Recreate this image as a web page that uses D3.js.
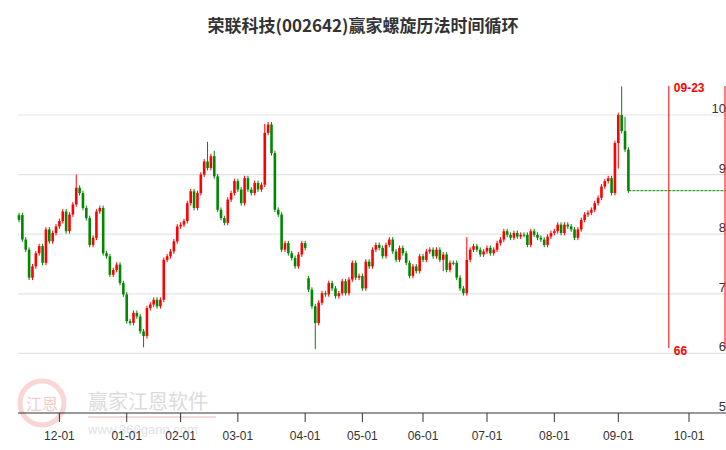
<!DOCTYPE html><html><head><meta charset="utf-8"><script src="https://cdn.jsdelivr.net/npm/d3@7"></script>
<style>body{margin:0;background:#fff}text{font-family:"Liberation Sans",Arial,sans-serif}</style></head><body><svg id="c" width="726" height="450"></svg>
<script>
const closes=[8.24,7.91,7.74,7.27,7.46,7.68,7.80,7.52,8.08,7.88,8.02,8.13,8.22,8.38,8.05,8.33,8.50,8.78,8.69,8.44,8.27,7.82,7.94,8.38,8.44,7.68,7.63,7.32,7.40,7.49,7.18,6.99,6.54,6.51,6.68,6.62,6.37,6.29,6.76,6.82,6.90,6.79,6.90,7.57,7.63,7.71,7.88,8.13,8.16,8.22,8.52,8.72,8.44,8.69,9.00,9.22,9.11,9.31,8.97,8.41,8.27,8.19,8.58,8.69,8.89,8.75,8.52,8.94,8.75,8.69,8.86,8.75,8.83,9.70,9.84,9.36,8.41,8.33,7.74,7.85,7.68,7.60,7.46,7.66,7.85,7.77,
7.07,6.79,6.51,6.85,7.01,6.99,7.18,7.09,6.96,7.01,7.21,7.01,7.24,7.52,7.27,7.30,7.09,7.54,7.46,
7.74,7.82,7.77,7.63,7.82,7.91,7.71,7.57,7.77,7.68,7.52,7.30,7.46,7.38,7.63,7.57,7.71,7.74,7.63,7.74,7.57,7.66,7.40,7.52,7.52,7.27,7.09,7.01,7.57,7.74,7.80,7.74,7.66,7.71,7.77,7.68,7.74,7.85,7.91,8.05,7.99,7.94,8.02,7.96,7.99,7.99,7.82,8.05,7.99,7.94,7.91,7.82,7.96,8.02,8.05,8.16,8.02,8.16,8.13,8.08,7.94,8.08,8.24,8.33,8.36,8.41,8.52,8.61,8.80,8.89,8.94,8.69,9.53,10.0,9.73,9.42,8.73];
const opens=[8.32,8.32,7.91,7.74,7.27,7.46,7.68,7.80,7.52,8.08,7.88,8.02,8.13,8.22,8.38,8.05,8.33,8.50,8.78,8.69,8.44,8.27,7.82,7.94,8.38,8.44,7.68,7.63,7.32,7.40,7.49,7.18,6.99,6.54,6.51,6.68,6.62,6.37,6.29,6.76,6.82,6.90,6.79,6.90,7.57,7.63,7.71,7.88,8.13,8.16,8.22,8.52,8.72,8.44,8.69,9.00,9.22,9.11,9.31,8.97,8.41,8.27,8.19,8.58,8.69,8.89,8.75,8.52,8.94,8.75,8.69,8.86,8.75,8.83,9.70,9.84,9.36,8.41,8.33,7.74,7.85,7.68,7.60,7.46,7.66,7.85,
7.26,7.07,6.79,6.51,6.85,7.01,6.99,7.18,7.09,6.96,7.01,7.21,7.01,7.24,7.52,7.27,7.30,7.09,7.54,
7.46,7.74,7.82,7.77,7.63,7.82,7.91,7.71,7.57,7.77,7.68,7.52,7.30,7.46,7.38,7.63,7.57,7.71,7.74,7.63,7.74,7.57,7.66,7.40,7.52,7.52,7.27,7.09,7.01,7.57,7.74,7.80,7.74,7.66,7.71,7.77,7.68,7.74,7.85,7.91,8.05,7.99,7.94,8.02,7.96,7.99,7.99,7.82,8.05,7.99,7.94,7.91,7.82,7.96,8.02,8.05,8.16,8.02,8.16,8.13,8.08,7.94,8.08,8.24,8.33,8.36,8.41,8.52,8.61,8.80,8.89,8.94,8.69,9.53,10.0,9.73,9.42];
const spikes=[[17,9.0],[56,9.55],[58,9.4],[73,9.85],[74,9.88],[37,6.10],[88,6.07],[126,7.38],[133,7.95],[178,9.1],[179,10.48],[180,9.97]];
const tickLabels=["12-01","01-01","02-01","03-01","04-01","05-01","06-01","07-01","08-01","09-01","10-01"];
const tickIndex=[12,32,48,65,85,102,120,139,159,178,199];
const yTicks=[5,6,7,8,9,10];
const markerIndex=193, markerDate="09-23", markerCount="66";

const svg=d3.select("#c");
const x=d3.scaleLinear().domain([0,199]).range([19,689]);
const y=d3.scaleLinear().domain([5,10]).range([413,115]);
svg.append("text").attr("x",363).attr("y",32).attr("text-anchor","middle").attr("font-size",17).attr("font-weight","bold").attr("fill","#333").style("font-family","'Noto Sans CJK SC'").text("荣联科技(002642)赢家螺旋历法时间循环");
const wm=svg.append("g").attr("opacity",0.35);
wm.append("circle").attr("cx",42).attr("cy",403).attr("r",22).attr("fill","none").attr("stroke","#e88").attr("stroke-width",5);
wm.append("text").attr("x",42).attr("y",410).attr("text-anchor","middle").attr("font-size",16).attr("fill","#d66").style("font-family","'Noto Sans CJK SC'").text("江恩");
wm.append("text").attr("x",88).attr("y",409).attr("font-size",20).attr("fill","#999").style("font-family","'Noto Sans CJK SC'").text("赢家江恩软件");
wm.append("rect").attr("x",88).attr("y",416).attr("width",128).attr("height",2).attr("fill","#d99");
wm.append("text").attr("x",88).attr("y",434).attr("font-size",13).attr("fill","#aaa").text("www.360gann.com");
svg.append("g").selectAll("line").data(yTicks.filter(d=>d>5)).join("line").attr("x1",18).attr("x2",726).attr("y1",d=>y(d)).attr("y2",d=>y(d)).attr("stroke","#e3e3e3").attr("stroke-width",1.2);
svg.append("g").selectAll("text").data(yTicks).join("text").attr("x",726).attr("y",d=>y(d)-2).attr("text-anchor","end").attr("font-size",13).attr("fill","#333").text(d=>d);
svg.append("line").attr("x1",18).attr("x2",726).attr("y1",413).attr("y2",413).attr("stroke","#333");
svg.append("g").selectAll("line").data(tickIndex).join("line").attr("x1",d=>x(d)).attr("x2",d=>x(d)).attr("y1",413).attr("y2",422).attr("stroke","#333");
svg.append("g").selectAll("text").data(tickIndex).join("text").attr("x",d=>x(d)).attr("y",440).attr("text-anchor","middle").attr("font-size",12).attr("fill","#333").text((d,i)=>tickLabels[i]);
const sp=new Map(spikes);
const data=closes.map((c,i)=>{const o=opens[i];let hi=Math.max(o,c)+0.04,lo=Math.min(o,c)-0.04;if(sp.has(i)){const v=sp.get(i);if(v>hi)hi=v;else lo=v;}return {i,o,c,hi,lo,up:c>o};});
const g=svg.append("g");
g.selectAll("line").data(data).join("line").attr("x1",d=>x(d.i)).attr("x2",d=>x(d.i)).attr("y1",d=>y(d.hi)).attr("y2",d=>y(d.lo)).attr("stroke",d=>d.up?"#f00":"#080").attr("stroke-width",1);
g.selectAll("rect").data(data).join("rect").attr("x",d=>x(d.i)-1.3).attr("width",2.6).attr("y",d=>y(Math.max(d.o,d.c))).attr("height",d=>Math.max(1,Math.abs(y(d.o)-y(d.c)))).attr("fill",d=>d.up?"#f00":"#080");
const last=closes[closes.length-1];
svg.append("line").attr("x1",x(closes.length-1)).attr("x2",726).attr("y1",y(last)).attr("y2",y(last)).attr("stroke","#080").attr("stroke-dasharray","3,1");
svg.append("line").attr("x1",x(markerIndex)).attr("x2",x(markerIndex)).attr("y1",86).attr("y2",348).attr("stroke","#f00");
svg.append("line").attr("x1",725).attr("x2",725).attr("y1",86).attr("y2",348).attr("stroke","#f00");
svg.append("text").attr("x",x(markerIndex)+5).attr("y",92).attr("font-size",12).attr("font-weight","bold").attr("fill","#f00").text(markerDate);
svg.append("text").attr("x",x(markerIndex)+5).attr("y",355).attr("font-size",12).attr("font-weight","bold").attr("fill","#f00").text(markerCount);
</script></body></html>
